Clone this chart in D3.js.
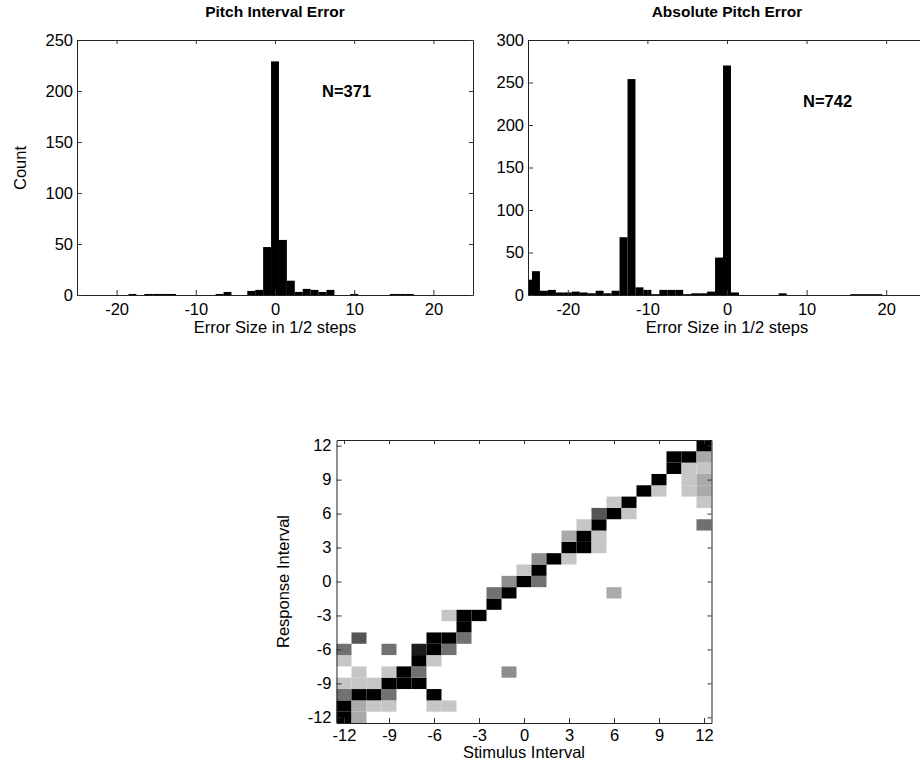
<!DOCTYPE html>
<html>
<head>
<meta charset="utf-8">
<script src="https://cdn.jsdelivr.net/npm/d3@7"></script>
<style>
  body { margin: 0; background: #fff; }
  text { font-family: "Liberation Sans", Arial, sans-serif; fill: #000; }
</style>
</head>
<body>
<div id="chart"></div>
<script>
// Pitch interval error histogram (bins of 1/2 step, only non-empty bins listed)
const intervalBins   = [-18, -16, -15, -14, -13, -7, -6, -3, -2, -1, 0, 1, 2, 3, 4, 5, 6, 7, 10, 15, 16, 17];
const intervalCounts = [  1,   1,   1,   1,   1,  1,  3,  4,  5, 47, 229, 54, 14, 3, 6, 5, 3, 5, 1, 1, 1, 1];

// Absolute pitch error histogram
const absoluteBins   = [-25, -24, -23, -22, -21, -20, -19, -18, -17, -16, -15, -14, -13, -12, -11, -10, -9, -8, -7, -6, -5, -4, -3, -2, -1, 0, 1, 7, 16, 17, 18, 19];
const absoluteCounts = [ 18,  28,   5,   6,   3,   3,   4,   3,   2,   5,   2,   5,  68, 254,   9,   6,  1,  6,  6,  6,  1,  2,  2,  4, 44, 270, 3, 2, 1, 1, 1, 1];

const histXTicks = [-20, -10, 0, 10, 20];
const intervalYTicks = [0, 50, 100, 150, 200, 250];
const absoluteYTicks = [0, 50, 100, 150, 200, 250, 300];

// Stimulus vs response interval: [stimulus, response, level 0..9]
const heatCells = [
  [-12,-12,9], [-11,-12,3],
  [-12,-11,9], [-11,-11,3], [-10,-11,2], [-9,-11,2], [-6,-11,2], [-5,-11,2],
  [-12,-10,5], [-11,-10,9], [-10,-10,9], [-9,-10,5], [-6,-10,9],
  [-12,-9,2], [-11,-9,2], [-10,-9,2], [-9,-9,9], [-8,-9,9], [-7,-9,9],
  [-11,-8,2], [-9,-8,2], [-8,-8,9], [-7,-8,5], [-1,-8,4],
  [-12,-7,2], [-7,-7,9], [-6,-7,2],
  [-12,-6,5], [-9,-6,5], [-7,-6,8], [-6,-6,9], [-5,-6,5],
  [-11,-5,6], [-6,-5,9], [-5,-5,9], [-4,-5,5],
  [-4,-4,9],
  [-5,-3,2], [-4,-3,9], [-3,-3,9],
  [-2,-2,9],
  [-2,-1,5], [-1,-1,9], [6,-1,3],
  [-1,0,4], [0,0,9], [1,0,5],
  [0,1,2], [1,1,9],
  [1,2,4], [2,2,9], [3,2,2],
  [3,3,9], [4,3,9], [5,3,2],
  [3,4,3], [4,4,9], [5,4,2],
  [4,5,2], [5,5,9], [12,5,5],
  [5,6,6], [6,6,9], [7,6,2],
  [6,7,2], [7,7,9], [12,7,2],
  [8,8,9], [9,8,2], [11,8,2], [12,8,3],
  [9,9,9], [11,9,2], [12,9,3],
  [10,10,9], [11,10,2], [12,10,2],
  [10,11,9], [11,11,9], [12,11,3],
  [12,12,9]
];
const heatTicks = [-12, -9, -6, -3, 0, 3, 6, 9, 12];

const width = 920;
const height = 775;

const svg = d3.select("#chart")
    .append("svg")
    .attr("width", width)
    .attr("height", height);

// MATLAB style box: ticks pointing inwards on all four sides, plain hyphen minus
function drawBox(g, x, y, xTicks, yTicks, xPad, yPad) {
    const [x0, x1] = x.range();
    const [y0, y1] = y.range();
    const fmt = d => String(d);

    const bottom = g.append("g")
        .attr("transform", `translate(0,${y0})`)
        .call(d3.axisBottom(x).tickValues(xTicks).tickFormat(fmt)
            .tickSizeInner(-5).tickSizeOuter(0).tickPadding(xPad));
    const left = g.append("g")
        .attr("transform", `translate(${x0},0)`)
        .call(d3.axisLeft(y).tickValues(yTicks).tickFormat(fmt)
            .tickSizeInner(-5).tickSizeOuter(0).tickPadding(yPad));
    g.append("g")
        .attr("transform", `translate(0,${y1})`)
        .call(d3.axisTop(x).tickValues(xTicks).tickSizeInner(-4).tickSizeOuter(0).tickFormat(""));
    g.append("g")
        .attr("transform", `translate(${x1},0)`)
        .call(d3.axisRight(y).tickValues(yTicks).tickSizeInner(-4).tickSizeOuter(0).tickFormat(""));

    g.selectAll(".domain").attr("stroke", "#222");
    g.selectAll(".tick line").attr("stroke", "#333");
    [bottom, left].forEach(a => a.selectAll("text")
        .style("font-size", "16.5px")
        .style("font-family", "'Liberation Sans', Arial, sans-serif"));
}

function drawHistogram(opts) {
    const g = svg.append("g");

    const x = d3.scaleLinear().domain([-25, 25]).range([opts.left, opts.right]);
    const y = d3.scaleLinear().domain([0, opts.yMax]).range([295, 40]);

    const clipId = "clip-" + opts.id;
    g.append("clipPath").attr("id", clipId)
        .append("rect")
        .attr("x", opts.left).attr("y", 40)
        .attr("width", opts.right - opts.left).attr("height", 255);

    g.append("g")
        .attr("clip-path", `url(#${clipId})`)
        .selectAll("rect")
        .data(opts.bins.map((b, i) => ({ bin: b, count: opts.counts[i] })))
        .enter()
        .append("rect")
        .attr("x", d => x(d.bin - 0.5))
        .attr("width", d => x(d.bin + 0.5) - x(d.bin - 0.5))
        .attr("y", d => y(d.count))
        .attr("height", d => y(0) - y(d.count))
        .attr("fill", "#000");

    drawBox(g, x, y, histXTicks, opts.yTicks, 8, 4);

    g.append("text")
        .attr("x", x(0))
        .attr("y", 17)
        .attr("text-anchor", "middle")
        .style("font-size", "15.5px")
        .style("font-weight", "bold")
        .text(opts.title);

    g.append("text")
        .attr("x", x(0))
        .attr("y", 333)
        .attr("text-anchor", "middle")
        .style("font-size", "16.5px")
        .text("Error Size in 1/2 steps");

    g.append("text")
        .attr("x", opts.nx)
        .attr("y", opts.ny)
        .style("font-size", "16.5px")
        .style("font-weight", "bold")
        .text(opts.nLabel);
}

drawHistogram({
    id: "int", left: 77, right: 473, yMax: 250, yTicks: intervalYTicks,
    bins: intervalBins, counts: intervalCounts,
    title: "Pitch Interval Error", nLabel: "N=371", nx: 322, ny: 97
});

drawHistogram({
    id: "abs", left: 528, right: 926, yMax: 300, yTicks: absoluteYTicks,
    bins: absoluteBins, counts: absoluteCounts,
    title: "Absolute Pitch Error", nLabel: "N=742", nx: 803, ny: 107
});

svg.append("text")
    .attr("text-anchor", "middle")
    .attr("transform", "rotate(-90)")
    .attr("x", -168)
    .attr("y", 26)
    .style("font-size", "16.5px")
    .text("Count");

// Heatmap
const hx = d3.scaleLinear().domain([-12.5, 12.5]).range([336.5, 711.5]);
const hy = d3.scaleLinear().domain([-12.5, 12.5]).range([723, 440]);
const gray = d3.scaleLinear().domain([0, 9]).range(["#ffffff", "#000000"]);

const hg = svg.append("g");

hg.selectAll("rect")
    .data(heatCells)
    .enter()
    .append("rect")
    .attr("x", d => hx(d[0] - 0.5))
    .attr("y", d => hy(d[1] + 0.5))
    .attr("width", d => hx(d[0] + 0.5) - hx(d[0] - 0.5))
    .attr("height", d => hy(d[1] - 0.5) - hy(d[1] + 0.5))
    .attr("fill", d => gray(d[2]));

drawBox(hg, hx, hy, heatTicks, heatTicks, 6, 5);

svg.append("text")
    .attr("x", hx(0))
    .attr("y", 758)
    .attr("text-anchor", "middle")
    .style("font-size", "16.5px")
    .text("Stimulus Interval");

svg.append("text")
    .attr("text-anchor", "middle")
    .attr("transform", "rotate(-90)")
    .attr("x", -hy(0))
    .attr("y", 289)
    .style("font-size", "16.5px")
    .text("Response Interval");
</script>
</body>
</html>
